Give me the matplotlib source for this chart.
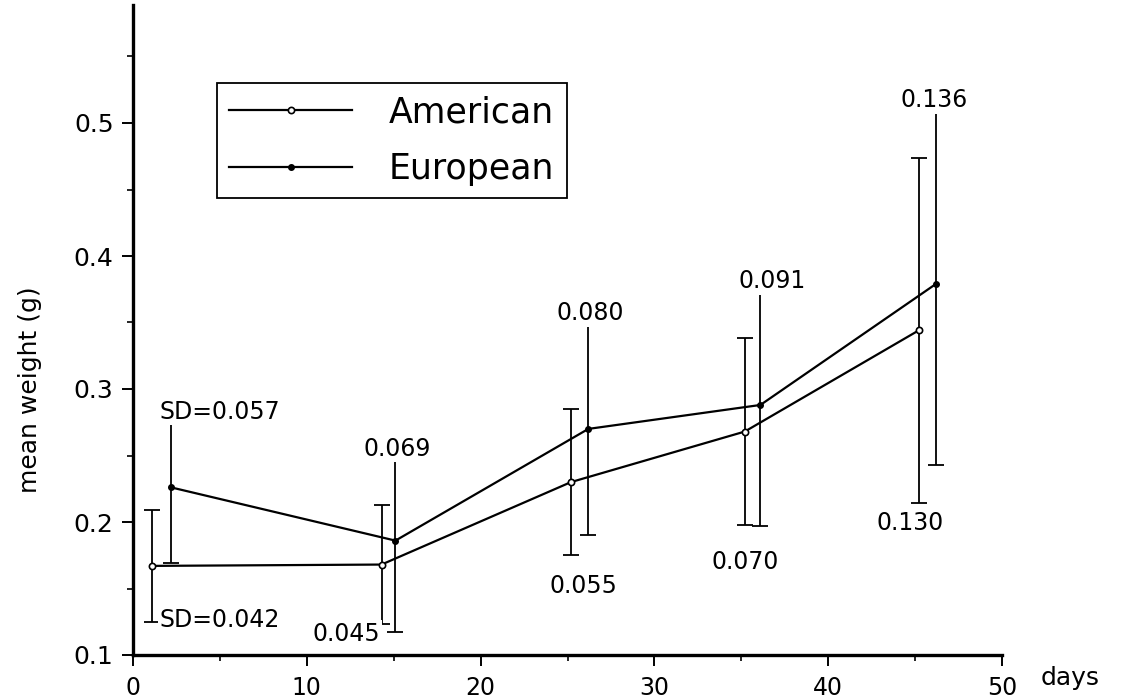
import matplotlib
matplotlib.use("Agg")
import matplotlib.pyplot as plt
import numpy as np
from matplotlib.ticker import MultipleLocator, FormatStrFormatter

# ---- data ----
am_days = np.array([1.1, 14.3, 25.2, 35.2, 45.2])
am_mean = np.array([0.167, 0.168, 0.230, 0.268, 0.344])
am_sd = np.array([0.042, 0.045, 0.055, 0.070, 0.130])

eu_days = np.array([2.2, 15.1, 26.2, 36.1, 46.2])
eu_mean = np.array([0.226, 0.186, 0.270, 0.288, 0.379])
eu_sd = np.array([0.057, 0.069, 0.080, 0.091, 0.136])

series_names = ["American", "European"]

am_labels = ["SD=0.042", "0.045", "0.055", "0.070", "0.130"]
eu_labels = ["SD=0.057", "0.069", "0.080", "0.091", "0.136"]
# label anchor positions (data coords)
am_label_x = [5.0, 12.3, 25.9, 35.2, 44.7]
am_label_y = [0.126, 0.116, 0.152, 0.170, 0.199]
eu_label_x = [5.0, 15.2, 26.3, 36.8, 46.1]
eu_label_y = [0.283, 0.255, 0.357, 0.381, 0.517]

x_ticks = [0, 10, 20, 30, 40, 50]
y_ticks = [0.1, 0.2, 0.3, 0.4, 0.5]

plt.rcParams['font.family'] = ['DejaVu Sans']

W, H = 1132, 699
fig = plt.figure(figsize=(W / 100, H / 100), dpi=100)
ax = fig.add_axes([133 / W, 1 - 655 / H, (1002 - 133) / W, (655 - 5) / H])

lw = 1.6
am_line, = ax.plot(am_days, am_mean, '-', color='black', lw=lw, marker='o',
                   ms=4.5, mfc='white', mec='black', mew=1.2, zorder=4)
ax.errorbar(am_days, am_mean, yerr=am_sd, fmt='none', ecolor='black',
            elinewidth=1.3, capsize=6, capthick=1.3, zorder=3)

eu_line, = ax.plot(eu_days, eu_mean, '-', color='black', lw=lw, marker='o',
                   ms=4, mfc='black', mec='black', zorder=4)
ax.vlines(eu_days, eu_mean - eu_sd, eu_mean + eu_sd, color='black', lw=1.3, zorder=3)
ax.plot(eu_days, eu_mean - eu_sd, ls='none', marker='_', ms=12, mew=1.3,
        color='black', zorder=3)

for xs, ys, labs in ((am_label_x, am_label_y, am_labels),
                     (eu_label_x, eu_label_y, eu_labels)):
    for x, y, t in zip(xs, ys, labs):
        ax.text(x, y, t, fontsize=17, ha='center', va='center', zorder=6,
                bbox=dict(facecolor='white', edgecolor='none', pad=1.0))

ax.set_xlim(0, 50)
ax.set_ylim(0.1, 0.1 + 650 / 1330)
ax.set_xticks(x_ticks)
ax.set_xticklabels([str(v) for v in x_ticks])
ax.set_yticks(y_ticks)
ax.yaxis.set_major_formatter(FormatStrFormatter('%.1f'))
ax.xaxis.set_minor_locator(MultipleLocator(5))
ax.yaxis.set_minor_locator(MultipleLocator(0.05))

for s in ('top', 'right'):
    ax.spines[s].set_visible(False)
for s in ('left', 'bottom'):
    ax.spines[s].set_linewidth(2.4)

ax.tick_params(which='major', direction='out', length=8, width=1.4)
ax.tick_params(which='minor', direction='out', length=4.5, width=1.2)
ax.tick_params(axis='y', which='major', pad=6, labelsize=18)
ax.tick_params(axis='x', which='major', pad=7, labelsize=17)

leg = ax.legend([am_line, eu_line], series_names, loc='upper left',
                bbox_to_anchor=(217 / W, 1 - 83 / H), bbox_transform=fig.transFigure,
                frameon=True, fancybox=False, edgecolor='black', framealpha=1,
                fontsize=25, handlelength=3.55, handletextpad=1.05, borderpad=0.35,
                labelspacing=0.65, borderaxespad=0)
leg.get_frame().set_linewidth(1.3)

fig.text(30 / W, 1 - 390 / H, 'mean weight (g)', rotation=90, fontsize=18,
         ha='center', va='center')
fig.text(1070 / W, 1 - 678 / H, 'days', fontsize=18, ha='center', va='center')

fig.savefig('out.png', dpi=100, facecolor='white')
